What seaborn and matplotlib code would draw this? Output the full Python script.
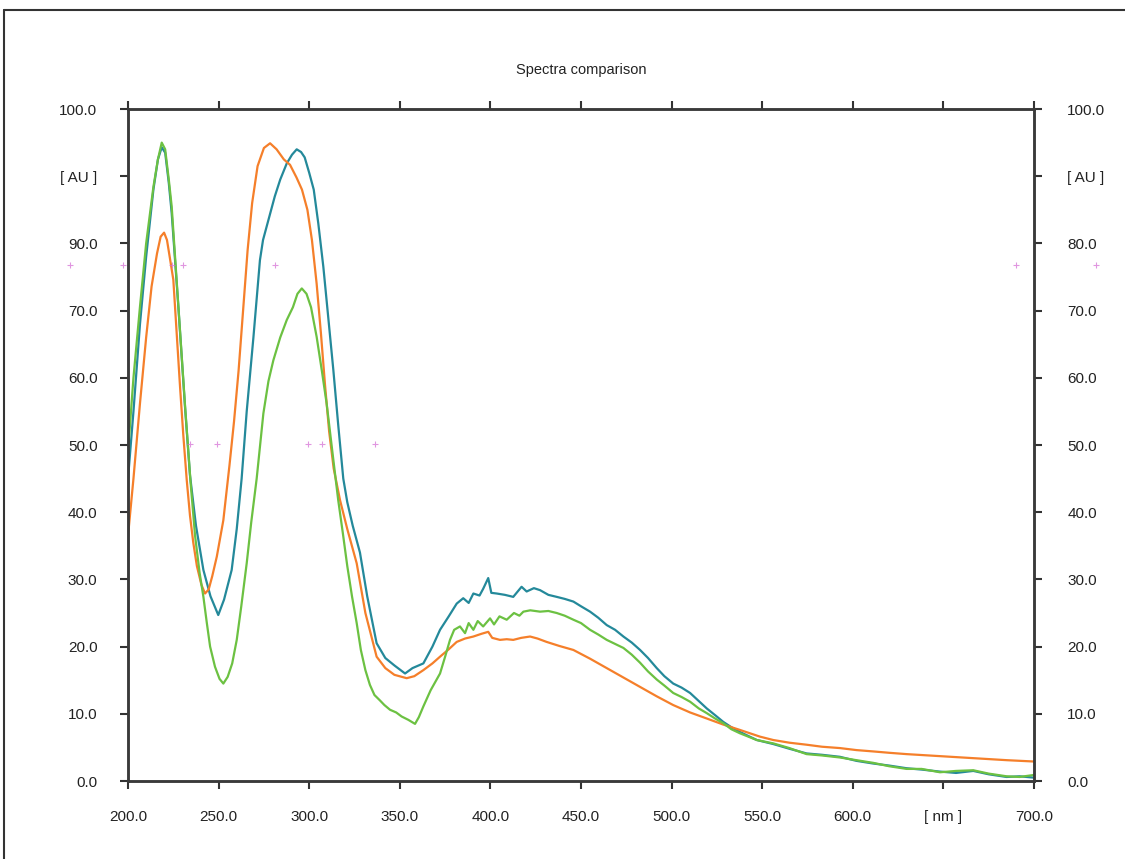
import numpy as np
import pandas as pd
import matplotlib
matplotlib.use("Agg")
import matplotlib.pyplot as plt
from matplotlib.lines import Line2D
import seaborn as sns

# --- spectra (wavelength nm, absorbance AU) ---
teal_nm = [200, 203, 206.6, 210, 214, 216.5, 218.6, 220.5, 222.5, 224.1, 227.8, 231.5, 234.2, 237.5,
           241.6, 245.5, 249.8, 253, 257.2, 260, 262.7, 265.5, 269.2, 272.8, 274.5, 278, 281, 284, 287.6,
           290.5, 293.1, 295.5, 297.5, 300, 302.5, 305, 307.8, 310.5, 313.3, 316, 318.8, 321, 324, 328, 332, 337.2,
           342, 347, 352.9, 357, 363, 368, 372.2, 377, 381.4, 385, 388, 390.6, 394, 396, 398.8, 400.5,
           403.5, 408, 412.6, 417.2, 420, 424, 427.4, 432, 436.6, 441, 445.8, 450, 455, 459.5, 464.2,
           468.8, 473.4, 478, 482.6, 487, 491.8, 496, 500.9, 505.5, 510.2, 515, 519.4, 524, 528.5,
           533, 537.7, 547, 556.1, 565, 574.5, 583, 592.9, 602, 611.3, 620, 629.7, 638, 648.1, 657,
           666.5, 675, 684.9, 692, 700]
teal_au = [45, 55, 68, 78, 88, 92.5, 94.3, 93.5, 89, 84.5, 70.5, 55.5, 45.5, 38,
           31.4, 27.5, 24.7, 27, 31.4, 37.5, 45, 55, 66, 77.5, 80.5, 84, 87, 89.5, 91.9,
           93.2, 94.0, 93.6, 92.8, 90.5, 88, 83, 76.5, 69, 61.2, 53, 45, 41.5, 38, 34, 27.5, 20.5,
           18.3, 17.2, 16.0, 16.8, 17.5, 20, 22.5, 24.5, 26.4, 27.2, 26.5, 27.9, 27.6, 28.6, 30.2, 28.0,
           27.9, 27.7, 27.4, 28.9, 28.2, 28.7, 28.4, 27.7, 27.4, 27.1, 26.7, 26.0, 25.2, 24.3, 23.2,
           22.5, 21.5, 20.6, 19.5, 18.3, 16.8, 15.6, 14.5, 13.9, 13.1, 11.9, 10.8, 9.8, 8.8,
           8.0, 7.3, 6.1, 5.5, 4.8, 4.1, 3.9, 3.6, 3.0, 2.6, 2.3, 1.9, 1.7, 1.4, 1.2,
           1.5, 1.0, 0.6, 0.7, 0.5]

orange_nm = [200, 203, 206.6, 210, 213, 216, 218, 219.9, 221.5, 223, 225, 228.7, 230.5, 232.4, 234.2, 236,
             238, 240.5, 242.5, 244.5, 246.5, 249, 252.6, 256, 258.5, 261, 263.5, 266, 268.5, 271.5,
             275, 278.4, 282, 286, 289.4, 293, 296, 299, 301.5, 304.1, 306.5, 308.7, 311, 313.5, 317, 321, 326.2,
             331, 337.2, 342, 347, 353.8, 358, 363, 368, 372.2, 377, 381.4, 386, 390.6, 395, 398.8,
             401, 405.3, 409, 412.6, 417, 421.9, 426, 431, 438, 445.8, 455, 464.2, 473.4, 482.6,
             491.8, 500.9, 510.2, 519.4, 528.5, 537.7, 548.8, 556.1, 565, 574.5, 583, 592.9, 602,
             611.3, 620, 629.7, 648.1, 666.5, 684.9, 700]
orange_au = [36.5, 45, 56.2, 66, 73.6, 78.5, 81, 81.6, 80.5, 78, 74.6, 58.7, 51.5, 44.8, 39.5, 35.5,
             32, 29.2, 27.9, 28.5, 30.5, 33.4, 38.8, 47, 53.5, 61, 70, 79, 86, 91.5,
             94.2, 94.9, 94, 92.5, 91.7, 89.8, 88, 85, 80.5, 74, 66.5, 59, 52, 46.5, 41.8, 37.5, 32.4,
             25, 18.5, 16.8, 15.8, 15.3, 15.6, 16.5, 17.5, 18.5, 19.6, 20.7, 21.2, 21.5, 21.9, 22.2,
             21.3, 21.0, 21.1, 21.0, 21.3, 21.5, 21.2, 20.7, 20.1, 19.5, 18.2, 16.8, 15.4, 14.0,
             12.6, 11.3, 10.2, 9.3, 8.4, 7.6, 6.6, 6.1, 5.7, 5.4, 5.1, 4.9, 4.6,
             4.4, 4.2, 4.0, 3.7, 3.4, 3.1, 2.9]

green_nm = [200, 203, 206.6, 210, 214, 216.5, 218.6, 220.5, 222.5, 224.1, 227.8, 231.5, 234.5, 237,
            239.5, 241.6, 243.5, 245.3, 248, 250.5, 252.6, 255, 257.5, 260, 262.5, 265.5, 268,
            271, 274.7, 277.5, 280.2, 284, 287.6, 291, 293.5, 295.9, 298.5, 301, 304.1, 307, 309.6,
            313, 316, 318.5, 321, 323.6, 326.2, 328.5, 331, 333.5, 336, 339, 341.5, 344.6, 348, 351, 354.7, 358.4, 360.5,
            363, 367, 372.2, 375, 377.7, 380, 383.2, 386, 388, 390.6, 393, 396, 399.8, 402, 405, 409,
            413, 416, 418.2, 422, 427.4, 432, 436.6, 441, 445.8, 450, 455, 459.5, 464.2, 468.8,
            473.4, 478, 482.6, 487, 491.8, 496, 500.9, 505.5, 510.2, 515, 519.4, 524, 528.5, 533,
            537.7, 547, 556.1, 565, 574.5, 583, 592.9, 602, 611.3, 620, 629.7, 638, 648.1, 657,
            666.5, 675, 684.9, 692, 700]
green_au = [49, 60, 70.6, 80, 88.4, 92.5, 95.0, 94, 89.5, 85.5, 70.6, 55.7, 44.5, 36.5,
            31, 27.4, 23.5, 20, 17, 15.2, 14.5, 15.5, 17.5, 21, 26, 32.4, 38.5,
            45, 54.7, 59.5, 62.6, 66, 68.6, 70.5, 72.5, 73.3, 72.5, 70.5, 66.1, 61, 56.2,
            48.5, 41.8, 37, 32, 27.5, 23.5, 19.5, 16.5, 14.3, 12.8, 12, 11.3, 10.6, 10.2, 9.6, 9.1, 8.5, 9.5,
            11.1, 13.5, 16.0, 18.5, 21.0, 22.5, 23.0, 22.0, 23.5, 22.5, 23.8, 23.0, 24.2, 23.3, 24.5, 24.0,
            25.0, 24.6, 25.2, 25.4, 25.2, 25.3, 25.0, 24.6, 24.0, 23.5, 22.5, 21.8, 21.0, 20.4,
            19.8, 18.8, 17.6, 16.3, 15.1, 14.2, 13.1, 12.5, 11.8, 10.8, 10.1, 9.3, 8.6, 7.7,
            7.1, 6.1, 5.6, 4.9, 4.0, 3.8, 3.5, 3.1, 2.7, 2.2, 1.8, 1.8, 1.3, 1.5,
            1.6, 1.1, 0.7, 0.6, 0.9]

# small magenta peak markers seen on the scan
mark_nm = [168, 197, 224.2, 230.3, 281, 690, 734, 234.2, 249, 299.5, 306.9, 336.3]
mark_au = [76.8, 76.8, 76.8, 76.8, 76.8, 76.8, 76.8, 50.2, 50.2, 50.2, 50.2, 50.2]

y_ticks = [0, 10, 20, 30, 40, 50, 60, 70, 80, 90, 100]
y_left_labels = ["0.0", "10.0", "20.0", "30.0", "40.0", "50.0", "60.0", "70.0", "90.0", "[ AU ]", "100.0"]
y_right_labels = ["0.0", "10.0", "20.0", "30.0", "40.0", "50.0", "60.0", "70.0", "80.0", "[ AU ]", "100.0"]
x_ticks = [200, 250, 300, 350, 400, 450, 500, 550, 600, 650, 700]
x_labels = ["200.0", "250.0", "300.0", "350.0", "400.0", "450.0", "500.0", "550.0", "600.0", "[ nm ]", "700.0"]

COLORS = {"teal": "#24899a", "orange": "#f57f2a", "green": "#6cc142"}

df = pd.concat([
    pd.DataFrame({"nm": teal_nm, "AU": teal_au, "sample": "teal"}),
    pd.DataFrame({"nm": orange_nm, "AU": orange_au, "sample": "orange"}),
    pd.DataFrame({"nm": green_nm, "AU": green_au, "sample": "green"}),
], ignore_index=True)

sns.set_style("white")
plt.rcParams["font.family"] = ["Liberation Sans", "DejaVu Sans"]

fig = plt.figure(figsize=(11.25, 8.59), dpi=100)
ax = fig.add_axes([0.1138, 0.0908, 0.9191 - 0.1138, 0.8731 - 0.0908])

sns.lineplot(data=df, x="nm", y="AU", hue="sample", palette=COLORS, estimator=None,
             sort=False, legend=False, linewidth=1.6, ax=ax)

ax.scatter(mark_nm, mark_au, marker="+", s=14, linewidths=0.8, color="#d36ad3",
           alpha=0.7, clip_on=False, zorder=5)

ax.set_xlim(200, 700)
ax.set_ylim(0, 100)
ax.set_xlabel("")
ax.set_ylabel("")

ax.set_xticks(x_ticks)
ax.set_xticklabels(x_labels)
ax.set_yticks(y_ticks)
ax.set_yticklabels(y_left_labels)

ax.tick_params(axis="both", which="both", direction="out", length=6, width=1.5,
               color="#333333", labelsize=11, labelcolor="#222222")
ax.tick_params(axis="x", top=True, bottom=True, pad=15)
ax.tick_params(axis="y", left=True, right=False, pad=16)

ax2 = ax.twinx()
ax2.set_ylim(0, 100)
ax2.set_yticks(y_ticks)
ax2.set_yticklabels(y_right_labels)
ax2.tick_params(axis="y", direction="out", length=6, width=1.5, color="#333333",
                labelsize=11, labelcolor="#222222", pad=18)

for a in (ax, ax2):
    for s in a.spines.values():
        s.set_color("#3a3a3a")
        s.set_linewidth(1.8)

fig.text(0.5164, 0.9185, "Spectra comparison", ha="center", va="center", fontsize=10.5, color="#222222")

# outer frame (left and top edges visible on the scan)
fig.add_artist(Line2D([4 / 1125, 4 / 1125], [0, 1 - 10 / 859], transform=fig.transFigure,
                      color="#333333", linewidth=1.5))
fig.add_artist(Line2D([4 / 1125, 1.0], [1 - 10 / 859, 1 - 10 / 859], transform=fig.transFigure,
                      color="#333333", linewidth=1.5))

fig.savefig("out.png", dpi=100, facecolor="white")
